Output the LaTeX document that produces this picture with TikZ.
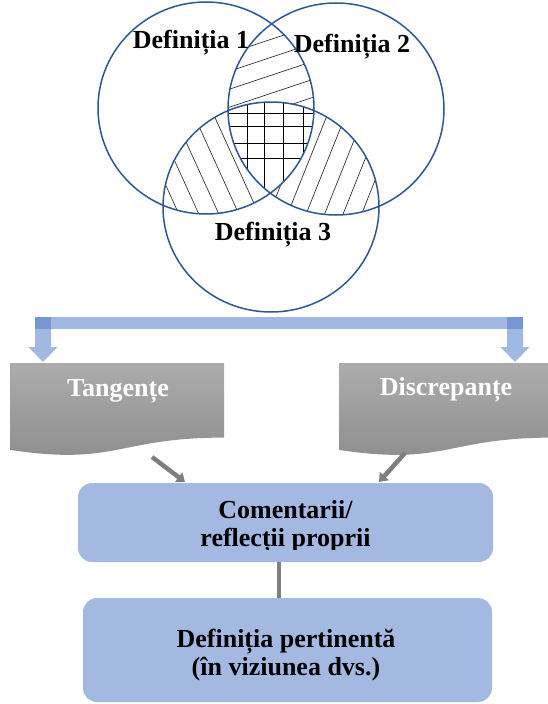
\documentclass[tikz,border=0pt]{standalone}
\usepackage{fontspec}
\setmainfont{Liberation Serif}
\usetikzlibrary{arrows.meta,calc}

\definecolor{venn}{RGB}{47,85,151}
\definecolor{boxblue}{RGB}{164,185,225}
\definecolor{barblue}{RGB}{160,184,226}
\definecolor{bardark}{RGB}{118,150,210}
\definecolor{grayTop}{RGB}{172,172,172}
\definecolor{grayBot}{RGB}{140,140,140}
\definecolor{conn}{RGB}{127,127,127}

% the three sets
\def\setA{(206,108) ellipse [x radius=108, y radius=106]}
\def\setB{(336,109) ellipse [x radius=108, y radius=106]}
\def\setC{(271,207) ellipse [x radius=108, y radius=105]}

\tikzset{
  lbl/.style={font=\fontsize{26}{29}\selectfont\bfseries, inner sep=0pt},
  hatch/.style={draw=black!80, line width=0.7pt},
  ring/.style={draw=venn, line width=1.5pt},
  flow/.style={rounded corners=14pt, fill=boxblue, draw=none, inner sep=0pt},
  link/.style={draw=conn, line width=4.5pt, -{Triangle[length=8pt,width=12pt]}},
  stem/.style={draw=conn, line width=4.5pt},
  doc/.style={top color=grayTop, bottom color=grayBot}
}

\begin{document}
\begin{tikzpicture}[x=1pt,y=-1pt]
\useasboundingbox (0,0) rectangle (548,704);

% ---- hatching of the overlaps ----
\begin{scope}
  \clip \setA; \clip \setB;
  \foreach \k in {-3,...,6} \draw[hatch] (200,{99-18*\k}) -- ++(130,-43.3);
\end{scope}
\begin{scope}
  \clip \setA; \clip \setC;
  \foreach \k in {0,...,7} \draw[hatch] ({137+20*\k-50},100) -- ++(75,165);
\end{scope}
\begin{scope}
  \clip \setB; \clip \setC;
  \foreach \k in {-2,...,6} \draw[hatch] ({292+18.5*\k-10},228) -- ++(64,-160);
\end{scope}
\begin{scope}
  \clip \setA; \clip \setB; \clip \setC;
  \fill[white] (150,90) rectangle (400,200);
  \foreach \x in {247,264,283,303} \draw[hatch, draw=black] (\x,90) -- (\x,200);
  \foreach \y in {113,126,143,158} \draw[hatch, draw=black] (200,\y) -- (340,\y);
\end{scope}

% ---- circles ----
\draw[ring] \setA;
\draw[ring] \setB;
\draw[ring] \setC;

\node[lbl, anchor=base] (d1) at (191,48) {Definiția 1};
\node[lbl, anchor=base] (d2) at (352,52) {Definiția 2};
\node[lbl, anchor=base] (d3) at (273,240) {Definiția 3};

% ---- splitting bar with two down arrows ----
\fill[barblue] (35,317) rectangle (523,329);
\fill[barblue] (35,329) -- (51,329) -- (51,347) -- (57.5,347) -- (43,362) -- (28.5,347) -- (35,347) -- cycle;
\fill[barblue] (507,329) -- (523,329) -- (523,347) -- (529.5,347) -- (515,362) -- (500.5,347) -- (507,347) -- cycle;
\fill[bardark] (35,317) rectangle (51,329);
\fill[bardark] (507,317) rectangle (523,329);

% ---- document shapes ----
\shade[doc] (10,363) -- (224,363) -- (224,437.6) .. controls (117,437.6) and (117,466) .. (10,449.9) -- cycle;
\shade[doc] (339,363) -- (553,363) -- (553,437.6) .. controls (446,437.6) and (446,466) .. (339,449.9) -- cycle;
\node[lbl, text=white, anchor=base] (tang) at (118,396) {Tangențe};
\node[lbl, text=white, anchor=base] (disc) at (446,395) {Discrepanțe};

% ---- boxes ----
\node[flow, minimum width=415pt, minimum height=79pt] (com) at (285.5,522.5) {};
\node[flow, minimum width=409pt, minimum height=104pt] (def) at (287.5,650) {};

\begin{scope}
  \clip (78,483) rectangle (493,549);
  \node[lbl, anchor=base] (comA) at (285.5,518) {Comentarii/};
  \node[lbl, anchor=base] (comB) at (285.5,546.5) {reflecții proprii};
\end{scope}
\node[lbl, anchor=base] (defA) at (286,647) {Definiția pertinentă};
\node[lbl, anchor=base] (defB) at (286,675) {(în viziunea dvs.)};

% ---- connectors ----
\coordinate (tangfoot) at (152,457);
\coordinate (discfoot) at (405,453);
\coordinate (comL) at (185,482);
\coordinate (comR) at (379,482);
\draw[link] (tangfoot) -- (comL);
\draw[link] (discfoot) -- (comR);
\draw[stem] ([xshift=-6.5pt]com.south) -- ([xshift=-6.5pt]com.south |- def.north);
\end{tikzpicture}
\end{document}
